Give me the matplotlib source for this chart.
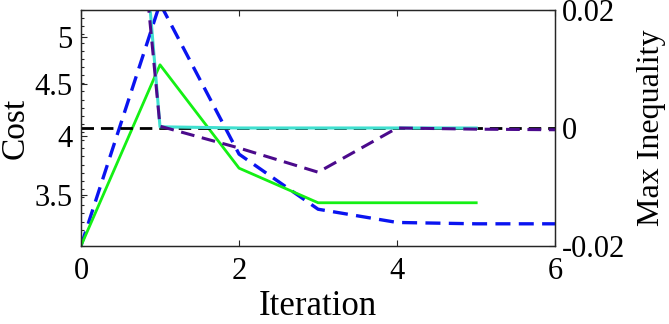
import numpy as np
import matplotlib.pyplot as plt
from matplotlib.ticker import FixedLocator, FixedFormatter, NullFormatter

# iterations
iters_short = [0, 1, 2, 3, 4, 5]
iters_long = [0, 1, 2, 3, 4, 5, 6]

# cost (left axis, log scale)
cost_green = [3.12, 4.70, 3.72, 3.44, 3.44, 3.44]
cost_blue = [3.12, 5.40, 3.84, 3.39, 3.29, 3.28, 3.28]

# max inequality (right axis)
ineq_cyan = [0.16, 0.0002, 0.0, 0.0, 0.0, 0.0]
ineq_purple = [0.14, 0.0003, -0.0034, -0.0075, 0.0, -0.0002, -0.0003]
zero_line_x = [0, 6]
zero_line_y = [0, 0]

cost_ticks = [3.5, 4, 4.5, 5]
cost_ticklabels = ["3.5", "4", "4.5", "5"]
ineq_ticks = [-0.02, 0, 0.02]
ineq_ticklabels = ["-0.02", "0", "0.02"]
x_ticks = [0, 2, 4, 6]

plt.rcParams["font.family"] = ["Liberation Serif", "DejaVu Serif"]

fig = plt.figure(figsize=(6.69, 3.24), dpi=100)
ax = fig.add_axes([0.121, 0.241, 0.709, 0.728])
ax2 = ax.twinx()

spine_col = "#262626"

ax.plot(iters_long, cost_blue, color="#0a14f0", lw=2.4, dashes=(4.5, 2.5))
ax.plot(iters_short, cost_green, color="#14f014", lw=2.0)

ax2.plot(zero_line_x, zero_line_y, color="black", lw=2.0, dashes=(4.5, 2.5))
ax2.plot(iters_short, ineq_cyan, color="#40e0d0", lw=2.2)
ax2.plot(iters_long, ineq_purple, color="#4b0a8c", lw=2.2, dashes=(4.5, 2.5))

ax.set_yscale("log")
ax.set_xlim(0, 6)
ax.set_ylim(3.12, 5.32)
ax2.set_ylim(-0.02, 0.02)

ax.xaxis.set_major_locator(FixedLocator(x_ticks))
ax.yaxis.set_major_locator(FixedLocator(cost_ticks))
ax.yaxis.set_major_formatter(FixedFormatter(cost_ticklabels))
ax.yaxis.set_minor_locator(FixedLocator(np.geomspace(3.12, 5.32, 30)))
ax.yaxis.set_minor_formatter(NullFormatter())
ax2.yaxis.set_major_locator(FixedLocator(ineq_ticks))
ax2.yaxis.set_major_formatter(FixedFormatter(ineq_ticklabels))

for a in (ax, ax2):
    for s in a.spines.values():
        s.set_color(spine_col)
        s.set_linewidth(0.9)

ax.tick_params(axis="x", which="both", direction="in", top=True, length=4,
               width=0.8, color=spine_col, labelsize=22, pad=8)
ax.tick_params(axis="y", which="major", direction="in", length=4, width=0.8,
               color=spine_col, labelsize=22, pad=6, right=False)
ax.tick_params(axis="y", which="minor", direction="in", length=2.5, width=0.8,
               color=spine_col, right=False)
ax2.tick_params(axis="y", direction="in", length=4, width=0.8,
                color=spine_col, labelsize=22, pad=5)

ax.set_xlabel("Iteration", fontsize=25, labelpad=3)
ax.set_ylabel("Cost", fontsize=24)
ax.yaxis.set_label_coords(-0.107, 0.5)
ax2.set_ylabel("Max Inequality", fontsize=23)
ax2.yaxis.set_label_coords(1.172, 0.5)

fig.savefig("out.png", dpi=100)
